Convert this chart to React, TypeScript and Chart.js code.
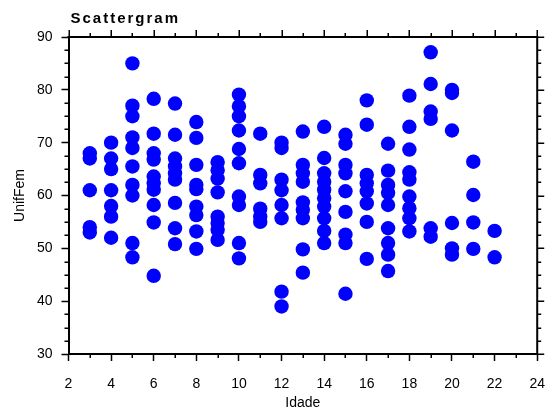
import React, { useEffect, useRef } from "react";
import { Chart, registerables } from "chart.js";

Chart.register(...registerables);

// ---- Data ----
const ages: number[] = [3, 4, 5, 6, 7, 8, 9, 10, 11, 12, 13, 14, 15, 16, 17, 18, 19, 20, 21, 22];

const unifFemByAge: number[][] = [
  [68, 67, 61, 54, 53],
  [70, 67, 65, 61, 58, 56, 52],
  [85, 77, 75, 71, 69, 65.5, 62, 60, 51, 48.3],
  [78.3, 71.7, 68, 66.8, 63.6, 62.3, 61.1, 58.2, 54.9, 44.8],
  [77.4, 71.5, 67, 65.5, 64.2, 63, 58.6, 53.8, 50.8],
  [73.9, 70.9, 65.8, 62, 61.2, 57.9, 56.3, 53.2, 49.9],
  [66.3, 64.8, 63.2, 60.6, 56, 54.8, 53.5, 51.6],
  [79.1, 76.9, 75, 72.3, 68.8, 66.1, 59.8, 58.2, 51, 48.1],
  [71.7, 63.9, 62.3, 57.5, 56, 55],
  [70, 69, 63, 61, 58.2, 55.7, 41.8, 39],
  [72.1, 65.8, 64.2, 62.6, 58.7, 57.3, 55.7, 49.8, 45.4],
  [73, 67.1, 64.2, 62.6, 61.1, 59.5, 57.9, 55.7, 53.3, 51],
  [71.5, 69.8, 65.8, 64.2, 60.8, 56.9, 52.6, 51, 41.4],
  [78, 73.4, 63.9, 62.3, 60.8, 58.5, 55, 48],
  [69.8, 64.7, 62, 60.5, 58.2, 53.8, 51, 48.8, 45.7],
  [78.9, 73, 68.7, 64.4, 63, 59.8, 57.6, 55.7, 53.2],
  [87.1, 81.1, 75.9, 74.5, 53.8, 52.2],
  [80, 79.4, 72.3, 54.8, 50, 48.8],
  [66.4, 60.1, 54.9, 49.9],
  [53.3, 48.3],
];

const xTickValues: number[] = [2, 4, 6, 8, 10, 12, 14, 16, 18, 20, 22, 24];
const yTickValues: number[] = [30, 40, 50, 60, 70, 80, 90];

const TITLE = "Scattergram";
const X_TITLE = "Idade";
const Y_TITLE = "UnifFem";

const X_MIN = 2, X_MAX = 24, X_MAJOR = 2, X_MINOR = 1;
const Y_MIN = 30, Y_MAX = 90, Y_MAJOR = 10, Y_MINOR = 2.5;

const FONT = '"Liberation Sans", Arial, sans-serif';

const framePlugin = {
  id: "frameTicks",
  afterDraw(chart: any) {
    const { ctx, chartArea: a, scales } = chart;
    const x = scales.x;
    const y = scales.y;
    ctx.save();
    ctx.strokeStyle = "#000";
    ctx.lineWidth = 2;
    ctx.beginPath();
    ctx.moveTo(a.left - 1, a.top);
    ctx.lineTo(a.right, a.top);
    ctx.lineTo(a.right, a.bottom + 1);
    ctx.stroke();

    ctx.lineWidth = 1.5;
    ctx.beginPath();
    for (let v = X_MIN; v <= X_MAX + 1e-9; v += X_MINOR) {
      const px = Math.round(x.getPixelForValue(v)) + 0.25;
      const major = Math.abs(v % X_MAJOR) < 1e-9;
      const len = major ? 7 : 4;
      ctx.moveTo(px, a.top);
      ctx.lineTo(px, a.top - len);
      if (!major) {
        ctx.moveTo(px, a.bottom);
        ctx.lineTo(px, a.bottom + len);
      }
    }
    for (let v = Y_MIN; v <= Y_MAX + 1e-9; v += Y_MINOR) {
      const py = Math.round(y.getPixelForValue(v)) + 0.25;
      const major = Math.abs(v % Y_MAJOR) < 1e-9;
      const len = major ? 7 : 4;
      ctx.moveTo(a.right, py);
      ctx.lineTo(a.right + len, py);
      if (!major) {
        ctx.moveTo(a.left, py);
        ctx.lineTo(a.left - len, py);
      }
    }
    ctx.stroke();

    // chart title
    ctx.fillStyle = "#000";
    ctx.font = `bold 15px ${FONT}`;
    (ctx as any).letterSpacing = "2px";
    ctx.textAlign = "left";
    ctx.textBaseline = "alphabetic";
    ctx.fillText(TITLE, a.left + 2, 23);
    (ctx as any).letterSpacing = "0px";
    ctx.restore();
  },
};

export default function App() {
  const canvasRef = useRef<HTMLCanvasElement | null>(null);

  useEffect(() => {
    const canvas = canvasRef.current;
    if (!canvas) return;
    const points: { x: number; y: number }[] = [];
    ages.forEach((age, i) => {
      unifFemByAge[i].forEach((v) => points.push({ x: age, y: v }));
    });

    const chart = new Chart(canvas, {
      type: "scatter",
      data: {
        datasets: [
          {
            label: Y_TITLE,
            data: points,
            backgroundColor: "#0000ff",
            borderColor: "#0000ff",
            borderWidth: 0,
            pointRadius: 7.2,
            pointHoverRadius: 7.2,
          },
        ],
      },
      options: {
        animation: false,
        responsive: false,
        devicePixelRatio: 1,
        events: [],
        layout: { padding: { top: 37, right: 15, left: 0, bottom: 0 } },
        plugins: {
          legend: { display: false },
          title: { display: false },
          tooltip: { enabled: false },
        },
        scales: {
          x: {
            type: "linear",
            min: X_MIN,
            max: X_MAX,
            afterFit: (s: any) => {
              s.height = 58;
            },
            afterBuildTicks: (s: any) => {
              s.ticks = xTickValues.map((v) => ({ value: v }));
            },
            ticks: {
              color: "#000",
              font: { family: FONT, size: 14 },
              padding: 15,
              maxRotation: 0,
              autoSkip: false,
            },
            grid: {
              display: true,
              drawOnChartArea: false,
              drawTicks: true,
              tickLength: 7,
              tickColor: "#000",
              tickWidth: 1.5,
            },
            border: { display: true, color: "#000", width: 2 },
            title: {
              display: true,
              text: X_TITLE,
              color: "#000",
              font: { family: FONT, size: 14 },
              padding: { top: 0, bottom: 0.5 },
            },
          },
          y: {
            type: "linear",
            min: Y_MIN,
            max: Y_MAX,
            afterFit: (s: any) => {
              s.width = 68.5;
            },
            afterBuildTicks: (s: any) => {
              s.ticks = yTickValues.map((v) => ({ value: v }));
            },
            ticks: {
              color: "#000",
              font: { family: FONT, size: 14 },
              padding: 9,
              autoSkip: false,
            },
            grid: {
              display: true,
              drawOnChartArea: false,
              drawTicks: true,
              tickLength: 7,
              tickColor: "#000",
              tickWidth: 1.5,
            },
            border: { display: true, color: "#000", width: 2 },
            title: {
              display: true,
              text: Y_TITLE,
              color: "#000",
              font: { family: FONT, size: 14 },
              padding: { top: 12, bottom: 0 },
            },
          },
        },
      },
      plugins: [framePlugin],
    });
    return () => chart.destroy();
  }, []);

  return (
    <div style={{ position: "absolute", left: 0, top: 0, width: 560, height: 412, background: "#fff" }}>
      <canvas ref={canvasRef} width={560} height={412} />
    </div>
  );
}
